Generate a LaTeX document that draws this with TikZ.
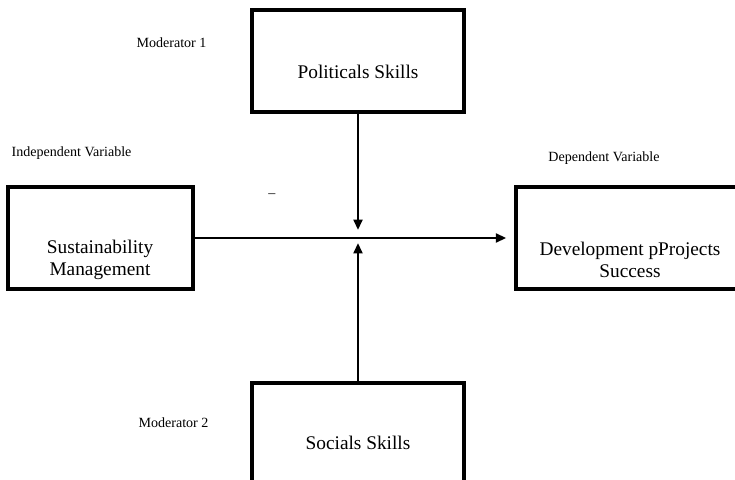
\documentclass[tikz,border=0pt]{standalone}
\usepackage{fontspec}
\setmainfont{Liberation Serif}
\usetikzlibrary{arrows.meta}
\begin{document}
\begin{tikzpicture}[x=0.02cm,y=-0.02cm,
    box/.style={draw,line width=2pt,inner sep=0pt,minimum height=2.04cm},
    boxtext/.style={font=\fontsize{11}{12.5}\selectfont,align=center,inner sep=0pt},
    tag/.style={font=\fontsize{8}{10}\selectfont,inner sep=0pt},
    link/.style={line width=1.6pt,-{Triangle[length=6pt,width=5pt]}}]
  \useasboundingbox (0,0) rectangle (735,480);
  \clip (0,0) rectangle (735,480);
  \draw
    (358,61) node[box,minimum width=4.24cm] (pol){}
    (100.5,238) node[box,minimum width=3.7cm] (sus){}
    (630,238) node[box,minimum width=4.56cm] (dev){}
    (358,434) node[box,minimum width=4.24cm] (soc){};
  \draw
    (358,72) node[boxtext] (poltext){Politicals Skills}
    (100,260) node[boxtext] (sustext){Sustainability\\Management}
    (630,260) node[boxtext] (devtext){Development pProjects\\Success}
    (358,443) node[boxtext] (soctext){Socials Skills};
  \draw
    (171.5,43) node[tag] (mod1){Moderator 1}
    (71.5,153) node[tag] (indep){Independent Variable}
    (604,158) node[tag] (dep){Dependent Variable}
    (173.5,423) node[tag] (mod2){Moderator 2}
    (272,196) node[tag] (dash){–};
  \coordinate (mid) at (358,238);
  \begin{scope}[link]
    \draw[shorten >=4.5pt] (sus) to (dev);
    \draw[shorten >=4.5pt] (pol) to (mid);
    \draw[shorten >=2.8pt] (soc) to (mid);
  \end{scope}
\end{tikzpicture}
\end{document}
